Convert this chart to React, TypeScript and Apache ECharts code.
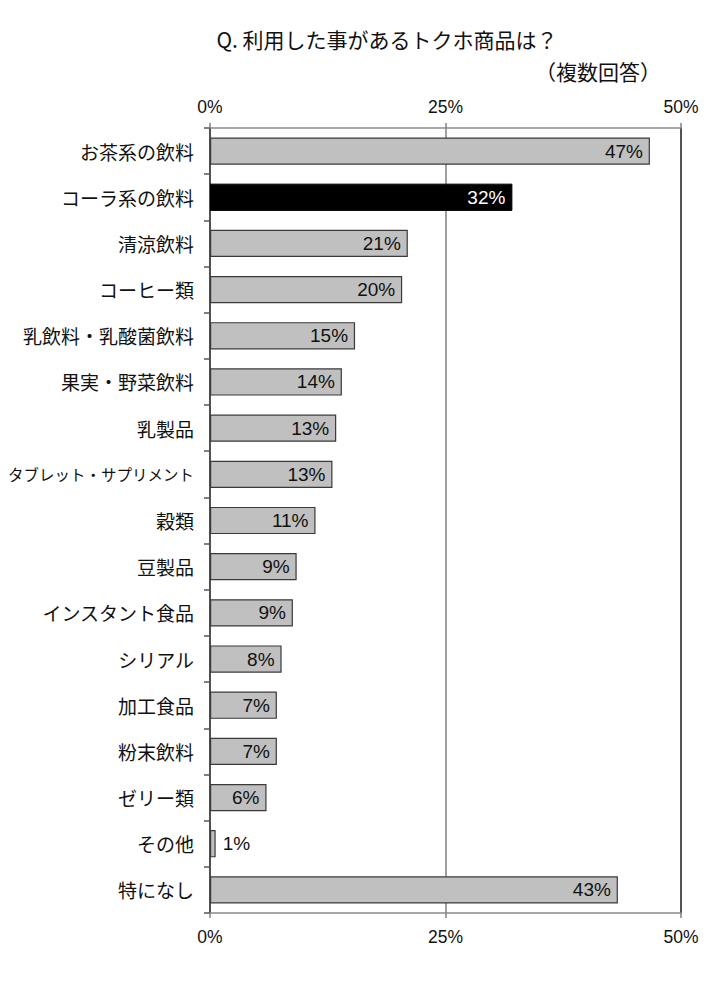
import React, { useEffect, useRef } from "react";
import * as echarts from "echarts";

const categories = [
  "お茶系の飲料",
  "コーラ系の飲料",
  "清涼飲料",
  "コーヒー類",
  "乳飲料・乳酸菌飲料",
  "果実・野菜飲料",
  "乳製品",
  "タブレット・サプリメント",
  "穀類",
  "豆製品",
  "インスタント食品",
  "シリアル",
  "加工食品",
  "粉末飲料",
  "ゼリー類",
  "その他",
  "特になし",
];
const values = [46.7, 32.1, 21.0, 20.4, 15.4, 14.0, 13.4, 13.0, 11.2, 9.2, 8.8, 7.6, 7.1, 7.1, 6.0, 0.6, 43.3];
const highlighted = ["コーラ系の飲料"];
const outsideLabel = ["その他"];
const longLabels = ["タブレット・サプリメント"];
const xTicks = [0, 25, 50];
const titleText = "Q. 利用した事があるトクホ商品は？";
const subtitleText = "（複数回答）";

const JP = '"Noto Sans CJK JP", sans-serif';
const LAT = '"Liberation Sans", Arial, sans-serif';

export default function App() {
  const ref = useRef<HTMLDivElement>(null);
  useEffect(() => {
    document.body.style.margin = "0";
    if (!ref.current) return;
    const chart = echarts.init(ref.current, undefined, { renderer: "svg" });
    const xAxisCommon = {
      type: "value" as const,
      min: xTicks[0],
      max: xTicks[xTicks.length - 1],
      interval: xTicks[1] - xTicks[0],
      axisLabel: {
        formatter: (v: number) => `${v}%`,
        fontFamily: LAT,
        fontSize: 17.5,
        color: "#111",
      },
      axisTick: { show: true, inside: false, length: 5, lineStyle: { color: "#808080", width: 1.5 } },
      axisLine: { show: true, lineStyle: { color: "#8a8a8a", width: 1.5 } },
    };
    chart.setOption({
      animation: false,
      backgroundColor: "#fff",
      title: [
        {
          text: titleText,
          left: 387,
          top: 28,
          textAlign: "center",
          padding: 0,
          textStyle: { fontFamily: JP, fontSize: 21, fontWeight: "normal", color: "#111" },
        },
        {
          text: subtitleText,
          left: 598,
          top: 60,
          textAlign: "center",
          padding: 0,
          textStyle: { fontFamily: JP, fontSize: 21, fontWeight: "normal", color: "#111" },
        },
      ],
      grid: { left: 210, right: 39, top: 128, bottom: 74, containLabel: false },
      xAxis: [
        {
          ...xAxisCommon,
          position: "top",
          axisLabel: { ...xAxisCommon.axisLabel, margin: 12 },
          splitLine: {
            show: true,
            lineStyle: { color: ["#444", "#808080", "#1a1a1a"], width: 1.5 },
          },
        },
        {
          ...xAxisCommon,
          position: "bottom",
          axisLabel: { ...xAxisCommon.axisLabel, margin: 15 },
          splitLine: { show: false },
        },
      ],
      yAxis: {
        type: "category",
        data: categories,
        inverse: true,
        axisLine: { show: true, lineStyle: { color: "#444", width: 1.5 } },
        axisTick: { show: true, length: 6, alignWithLabel: false, lineStyle: { color: "#555", width: 1.5 } },
        axisLabel: {
          margin: 16,
          fontFamily: JP,
          fontSize: 19,
          color: "#111",
          formatter: (v: string) => (longLabels.includes(v) ? `{s|${v}}` : v),
          rich: { s: { fontFamily: JP, fontSize: 15.5, color: "#111" } },
        },
      },
      series: [
        {
          type: "bar",
          xAxisIndex: 0,
          barWidth: "59%",
          data: categories.map((c, i) => {
            const hi = highlighted.includes(c);
            const out = outsideLabel.includes(c);
            return {
              value: values[i],
              itemStyle: hi
                ? { color: "#000", borderColor: "#000", borderWidth: 1 }
                : { color: "#c0c0c0", borderColor: "#3a3a3a", borderWidth: 1.2 },
              label: {
                show: true,
                position: out ? "right" : "insideRight",
                distance: 7,
                color: hi ? "#fff" : "#111",
              },
            };
          }),
          label: {
            show: true,
            fontFamily: LAT,
            fontSize: 19,
            formatter: (p: any) => `${Math.round(p.value)}%`,
          },
        },
      ],
    });
    return () => chart.dispose();
  }, []);
  return <div ref={ref} style={{ width: 720, height: 987 }} />;
}
